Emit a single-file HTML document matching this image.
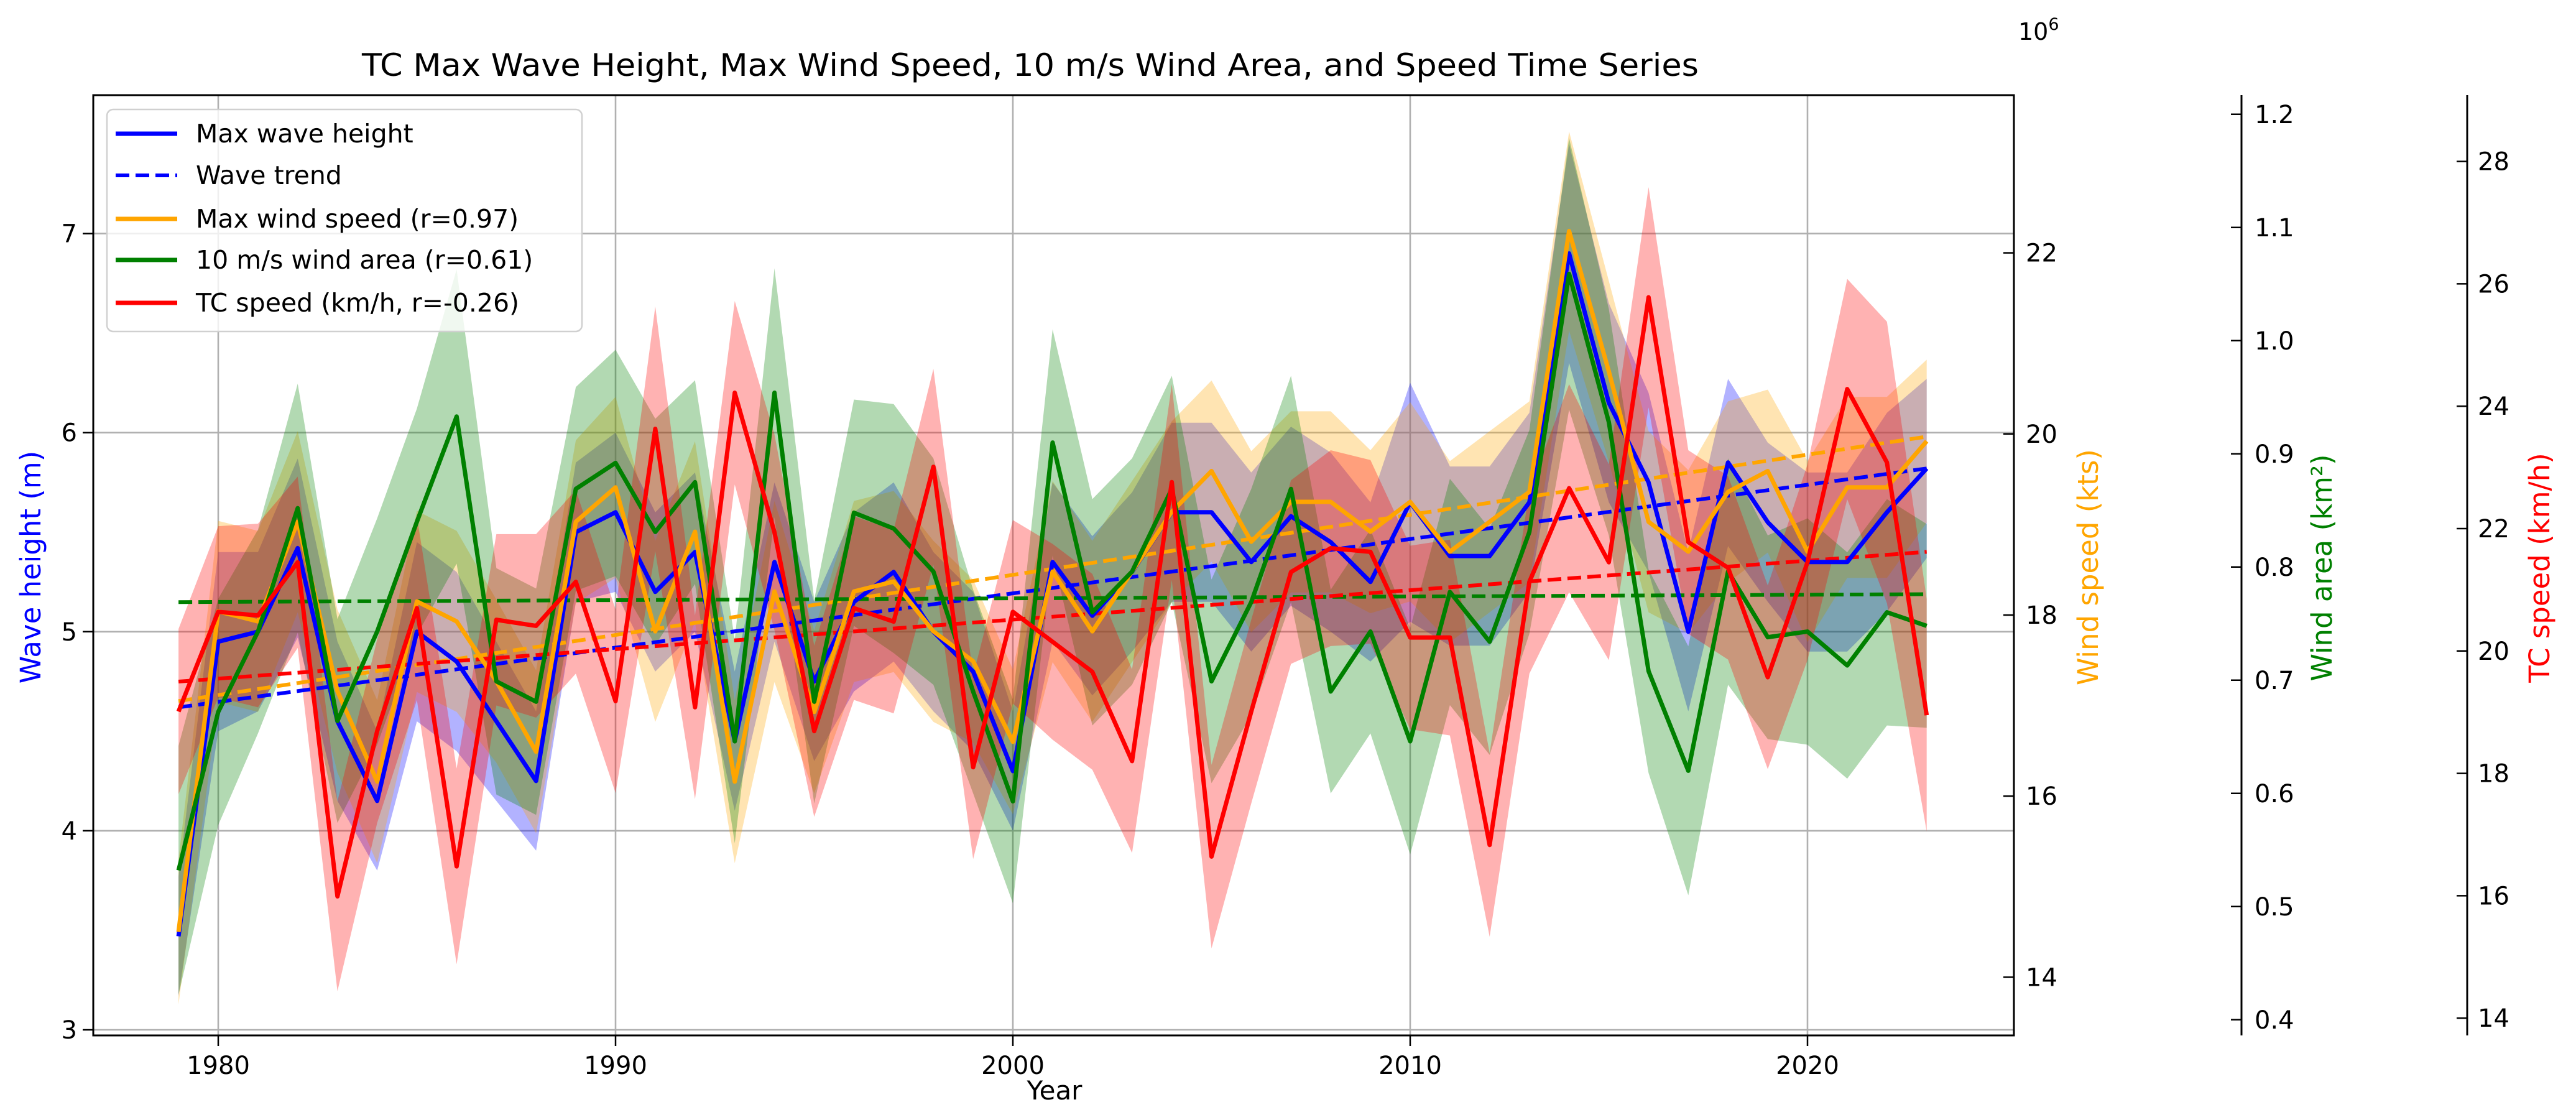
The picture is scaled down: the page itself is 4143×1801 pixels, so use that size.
<!DOCTYPE html>
<html><head><meta charset="utf-8"><style>html,body{margin:0;padding:0;background:#fff}svg{display:block}text{font-family:"DejaVu Sans","Liberation Sans",sans-serif}</style></head>
<body>
<svg id="chart" width="4143" height="1801" viewBox="0 0 4143 1801" xmlns="http://www.w3.org/2000/svg"></svg>
<script>
const years=[1979,1980,1981,1982,1983,1984,1985,1986,1987,1988,1989,1990,1991,1992,1993,1994,1995,1996,1997,1998,1999,2000,2001,2002,2003,2004,2005,2006,2007,2008,2009,2010,2011,2012,2013,2014,2015,2016,2017,2018,2019,2020,2021,2022,2023];
const waveVals=[3.47,4.95,5.0,5.42,4.55,4.15,5.0,4.85,4.55,4.25,5.5,5.6,5.2,5.4,4.45,5.35,4.75,5.15,5.3,5.0,4.8,4.3,5.35,5.08,5.3,5.6,5.6,5.35,5.58,5.45,5.25,5.65,5.38,5.38,5.65,6.9,6.15,5.75,5.0,5.85,5.55,5.35,5.35,5.6,5.82];
const waveSpread=[0.3,0.45,0.4,0.45,0.4,0.35,0.45,0.45,0.4,0.35,0.35,0.4,0.4,0.4,0.35,0.4,0.4,0.45,0.45,0.4,0.4,0.3,0.4,0.4,0.4,0.45,0.45,0.45,0.45,0.45,0.4,0.6,0.45,0.45,0.45,0.55,0.5,0.45,0.4,0.42,0.4,0.45,0.45,0.5,0.45];
const waveTrend=[4.62,5.82];
const windVals=[14.5,18.04,17.93,19.03,17.16,16.16,18.15,17.93,17.27,16.49,19.03,19.41,17.82,18.92,16.16,18.26,16.93,18.26,18.37,17.82,17.49,16.6,18.48,17.82,18.48,19.14,19.59,18.81,19.25,19.25,18.92,19.25,18.7,19.03,19.36,22.24,20.69,19.03,18.7,19.36,19.59,18.7,19.41,19.41,19.92];
const windSpread=[0.8,1.0,1.0,1.0,0.9,0.9,1.0,1.0,0.9,0.9,0.9,1.0,1.0,1.0,0.9,1.0,0.9,1.0,1.0,1.0,0.9,0.8,1.0,1.0,1.0,1.0,1.0,1.0,1.0,1.0,0.9,1.1,1.0,1.0,1.0,1.1,1.0,1.0,0.9,1.0,0.9,1.0,1.0,1.0,0.9];
const windTrend=[17.05,19.97];
const areaVals=[0.532,0.672,0.743,0.852,0.664,0.743,0.84,0.933,0.699,0.681,0.869,0.892,0.831,0.875,0.646,0.954,0.681,0.848,0.834,0.796,0.69,0.593,0.91,0.76,0.796,0.869,0.699,0.769,0.869,0.69,0.743,0.646,0.778,0.734,0.831,1.059,0.928,0.708,0.62,0.796,0.738,0.743,0.713,0.76,0.748];
const areaSpread=[0.11,0.1,0.09,0.11,0.09,0.1,0.1,0.13,0.1,0.1,0.09,0.1,0.1,0.09,0.09,0.11,0.09,0.1,0.11,0.1,0.09,0.09,0.1,0.1,0.1,0.1,0.09,0.1,0.1,0.09,0.09,0.1,0.1,0.1,0.09,0.12,0.1,0.09,0.11,0.1,0.09,0.1,0.1,0.1,0.09];
const areaTrend=[0.769,0.776];
const speedVals=[19.01,20.64,20.58,21.45,15.99,18.69,20.7,16.48,20.51,20.41,21.13,19.18,23.63,19.08,24.22,21.94,18.69,20.7,20.48,23.01,18.1,20.64,20.15,19.66,18.2,22.76,16.64,19.01,21.29,21.68,21.62,20.22,20.22,16.83,21.13,22.66,21.45,25.78,21.78,21.36,19.57,21.45,24.28,23.08,18.95];
const speedSpread=[1.35,1.4,1.5,1.4,1.55,1.5,1.5,1.6,1.4,1.5,1.5,1.5,2.0,1.5,1.5,1.6,1.4,1.5,1.5,1.6,1.5,1.5,1.6,1.6,1.5,1.6,1.5,1.5,1.5,1.6,1.5,1.5,1.6,1.5,1.5,1.7,1.6,1.8,1.5,1.5,1.5,1.6,1.8,2.3,1.9];
const speedTrend=[19.5,21.62];
const xTicks=[1980,1990,2000,2010,2020];
const waveTicks=[3,4,5,6,7];
const windTicks=[14,16,18,20,22];
const areaTicks=["0.4","0.5","0.6","0.7","0.8","0.9","1.0","1.1","1.2"];
const speedTicks=[14,16,18,20,22,24,26,28];

const svg=document.getElementById('chart');
const NS='http://www.w3.org/2000/svg';
const L=150,R=3239,T=153,B=1665;
const xS=y=>351+(y-1980)*63.9;
const yW=v=>375.6+(7-v)*320.1;
const yK=v=>406.6+(22-v)*145.6;
const yA=v=>183.8+(1.2-v)*1820;
const yS=v=>259.6+(28-v)*98.4;
function mk(tag,attrs,parent){const e=document.createElementNS(NS,tag);for(const k in attrs)e.setAttribute(k,attrs[k]);(parent||svg).appendChild(e);return e;}
function txt(s,attrs,parent){const e=mk('text',attrs,parent);e.textContent=s;return e;}

const grid=mk('g',{});


xTicks.forEach(t=>mk('line',{x1:xS(t),x2:xS(t),y1:T,y2:B,stroke:'#b0b0b0','stroke-width':2.6},grid));
waveTicks.forEach(t=>mk('line',{x1:L,x2:R,y1:yW(t),y2:yW(t),stroke:'#b0b0b0','stroke-width':2.6},grid));

const S=[
 {name:'wave',vals:waveVals,spread:waveSpread,trend:waveTrend,ys:yW,col:'#0000ff',fill:'rgba(0,0,255,0.3)'},
 {name:'wind-speed',vals:windVals,spread:windSpread,trend:windTrend,ys:yK,col:'#ffa500',fill:'rgba(255,165,0,0.3)'},
 {name:'wind-area',vals:areaVals,spread:areaSpread,trend:areaTrend,ys:yA,col:'#008000',fill:'rgba(0,128,0,0.3)'},
 {name:'tc-speed',vals:speedVals,spread:speedSpread,trend:speedTrend,ys:yS,col:'#ff0000',fill:'rgba(255,0,0,0.3)'}
];
S.forEach(s=>{
  let up=s.vals.map((v,i)=>xS(years[i])+','+s.ys(v+s.spread[i]));
  let lo=s.vals.map((v,i)=>xS(years[i])+','+s.ys(v-s.spread[i])).reverse();
  const band=mk('polygon',{points:up.concat(lo).join(' '),fill:s.fill,stroke:'none'});
  
  
});
S.forEach(s=>{
  const tr=mk('line',{x1:xS(years[0]),x2:xS(years[years.length-1]),y1:s.ys(s.trend[0]),y2:s.ys(s.trend[1]),stroke:s.col,'stroke-width':6,'stroke-dasharray':'22 10'});
  
  
});
S.forEach(s=>{
  const ln=mk('polyline',{points:s.vals.map((v,i)=>xS(years[i])+','+s.ys(v)).join(' '),fill:'none',stroke:s.col,'stroke-width':7,'stroke-linejoin':'round'});
  
  
});

const fr=mk('rect',{x:L,y:T,width:R-L,height:B-T,fill:'none',stroke:'#000','stroke-width':3});



const ax=mk('g',{'font-size':40,fill:'#000'});


xTicks.forEach(t=>{mk('line',{x1:xS(t),x2:xS(t),y1:B,y2:B+17,stroke:'#000','stroke-width':2.5},ax);txt(String(t),{x:xS(t),y:B+62,'text-anchor':'middle'},ax);});
waveTicks.forEach(t=>{mk('line',{x1:L,x2:L-17,y1:yW(t),y2:yW(t),stroke:'#000','stroke-width':2.5},ax);txt(String(t),{x:L-26,y:yW(t)+14,'text-anchor':'end'},ax);});
windTicks.forEach(t=>{mk('line',{x1:R,x2:R-17,y1:yK(t),y2:yK(t),stroke:'#000','stroke-width':2.5},ax);txt(String(t),{x:R+19,y:yK(t)+14},ax);});
const AX=3605,SX=3968;
mk('line',{x1:AX,x2:AX,y1:T,y2:B,stroke:'#000','stroke-width':3},ax);
mk('line',{x1:SX,x2:SX,y1:T,y2:B,stroke:'#000','stroke-width':3},ax);
areaTicks.forEach(t=>{const v=parseFloat(t);mk('line',{x1:AX,x2:AX-17,y1:yA(v),y2:yA(v),stroke:'#000','stroke-width':2.5},ax);txt(t,{x:AX+21,y:yA(v)+14},ax);});
speedTicks.forEach(t=>{mk('line',{x1:SX,x2:SX-17,y1:yS(t),y2:yS(t),stroke:'#000','stroke-width':2.5},ax);txt(String(t),{x:SX+17,y:yS(t)+14},ax);});
</script>
<svg style="position:absolute;left:0;top:0" width="4143" height="1801" xmlns="http://www.w3.org/2000/svg">
<text x="1657" y="122" text-anchor="middle" font-size="50" textLength="2150" lengthAdjust="spacingAndGlyphs">TC Max Wave Height, Max Wind Speed, 10 m/s Wind Area, and Speed Time Series</text>
<text x="1696" y="1768" text-anchor="middle" font-size="42">Year</text>
<text transform="translate(65,912) rotate(-90)" text-anchor="middle" font-size="45" fill="#0000ff">Wave height (m)</text>
<text transform="translate(3374,912) rotate(-90)" text-anchor="middle" font-size="45" fill="#ffa500">Wind speed (kts)</text>
<text transform="translate(3750,913) rotate(-90)" text-anchor="middle" font-size="45" fill="#008000">Wind area (km²)</text>
<text transform="translate(4100,913) rotate(-90)" text-anchor="middle" font-size="45" fill="#ff0000">TC speed (km/h)</text>
<text x="3246" y="64" font-size="38">10<tspan dy="-16" font-size="27">6</tspan></text>
<g>
<rect x="172" y="176" width="764" height="357" rx="10" fill="rgba(255,255,255,0.8)" stroke="#d0d0d0" stroke-width="2.5"/>
<g><line x1="186" x2="285" y1="215" y2="215" stroke="#0000ff" stroke-width="7"/><text x="315" y="229" font-size="41">Max wave height</text></g>
<g><line x1="186" x2="285" y1="282" y2="282" stroke="#0000ff" stroke-width="6" stroke-dasharray="22 10"/><text x="315" y="296" font-size="41">Wave trend</text></g>
<g><line x1="186" x2="285" y1="352" y2="352" stroke="#ffa500" stroke-width="7"/><text x="315" y="366" font-size="41">Max wind speed (r=0.97)</text></g>
<g><line x1="186" x2="285" y1="418" y2="418" stroke="#008000" stroke-width="7"/><text x="315" y="432" font-size="41">10 m/s wind area (r=0.61)</text></g>
<g><line x1="186" x2="285" y1="487" y2="487" stroke="#ff0000" stroke-width="7"/><text x="315" y="501" font-size="41">TC speed (km/h, r=-0.26)</text></g>
</g>
</svg>
</body></html>
